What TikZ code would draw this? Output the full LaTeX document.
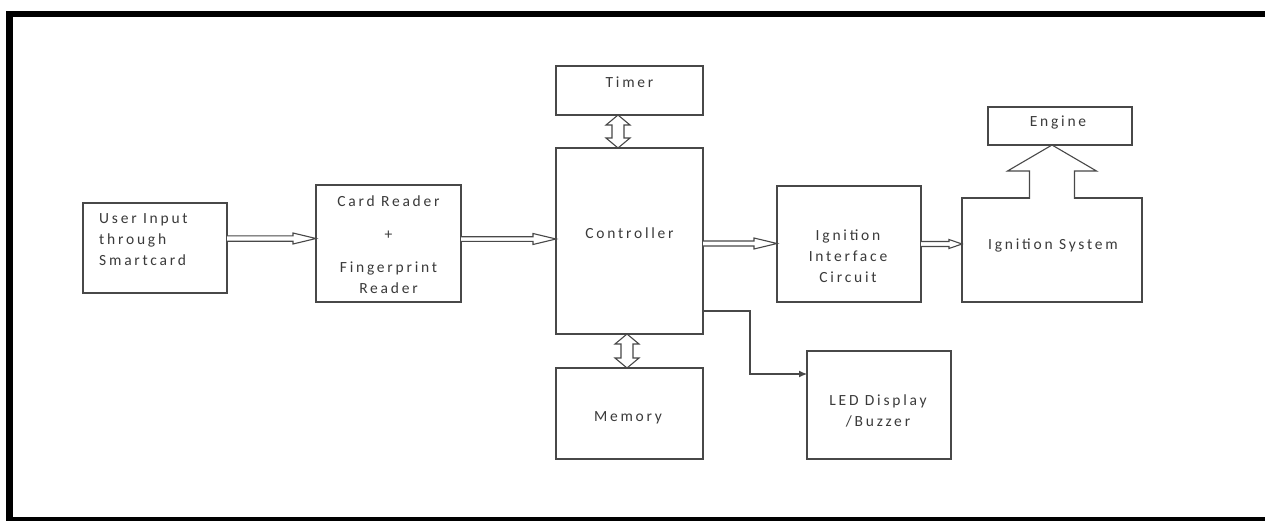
\documentclass[tikz,border=0pt]{standalone}
\usepackage{fontspec}
\setmainfont{Carlito}[LetterSpace=18]
\usetikzlibrary{calc,arrows.meta}
\definecolor{linec}{HTML}{484848}
\definecolor{txtc}{HTML}{3A3A3A}
\newcommand\hollowH[5]{%
  \filldraw[conn,fill=white] let \p1=(#1), \p2=(#2) in
    (\x1,\y1+#3) -- (\x2-#5,\y1+#3) -- (\x2-#5,\y1+#4) -- (\x2,\y1)
    -- (\x2-#5,\y1-#4) -- (\x2-#5,\y1-#3) -- (\x1,\y1-#3);}
\newcommand\hollowV[5]{%
  \filldraw[conn,fill=white] let \p1=(#1), \p2=(#2) in
    (\x1,\y1) -- (\x1+#4,\y1-#5) -- (\x1+#3,\y1-#5) -- (\x1+#3,\y2+#5)
    -- (\x1+#4,\y2+#5) -- (\x1,\y2) -- (\x1-#4,\y2+#5) -- (\x1-#3,\y2+#5)
    -- (\x1-#3,\y1-#5) -- (\x1-#4,\y1-#5) -- cycle;}
\begin{document}
\begin{tikzpicture}[x=1pt,y=-1pt,
  box/.style={draw=linec,line width=1.2pt,rectangle,inner sep=0pt,outer sep=0pt,fill=white},
  conn/.style={draw=linec,line width=1.1pt,line join=miter},
  txt/.style={text=txtc,inner sep=0pt,align=center,font=\fontsize{15.5}{21}\selectfont}]
\useasboundingbox (0,0) rectangle (1265,520);
\clip (0,0) rectangle (1265,520);
\fill[white] (0,0) rectangle (1265,520);
% frame (top, left, bottom only; right side runs off the picture)
\draw[line width=6.5pt,black,line cap=rect] (1266,14) -- (9.5,14) -- (9.5,520.5) -- (1266,520.5);
% boxes
\node[box,minimum width=144pt,minimum height=90pt]  (user)  at (155,248) {};
\node[box,minimum width=145pt,minimum height=117pt] (card)  at (388.5,243.5) {};
\node[box,minimum width=147pt,minimum height=186pt] (ctrl)  at (629.5,241) {};
\node[box,minimum width=147pt,minimum height=49pt]  (timer) at (629.5,90.5) {};
\node[box,minimum width=147pt,minimum height=91pt]  (mem)   at (629.5,413.5) {};
\node[box,minimum width=144pt,minimum height=108pt] (led)   at (879,405) {};
\node[box,minimum width=144pt,minimum height=116pt] (ign)   at (849,244) {};
\node[box,minimum width=180pt,minimum height=104pt] (sys)   at (1052,250) {};
\node[box,minimum width=144pt,minimum height=38pt]  (eng)   at (1060,126) {};
% texts
\node[txt,align=left,anchor=west] (usertxt) at (99,240) {User Input\\through\\Smartcard};
\node[txt] (cardtxt) at (388.5,245) {Card Reader\\[12pt]+\\[12pt]Fingerprint\\Reader};
\node[txt] (ctrltxt) at (629.5,233) {Controller};
\node[txt] (timertxt) at (629.5,82) {Timer};
\node[txt] (memtxt) at (628,418) {Memory};
\node[txt] (ledtxt) at (878,411) {LED Display\\/Buzzer};
\node[txt] (igntxt) at (848,256) {Ignition\\Interface\\Circuit};
\node[txt] (systxt) at (1053,245) {Ignition System};
\node[txt] (engtxt) at (1058,122) {Engine};
% hollow arrows
\hollowH{[yshift=9.5pt]user.east}{card.west}{2.7pt}{5.5pt}{23pt}
\hollowH{[yshift=4.5pt]card.east}{ctrl.west}{2.3pt}{5.5pt}{23pt}
\hollowH{[yshift=-2.5pt]ctrl.east}{ign.west}{2.5pt}{5.5pt}{23pt}
\hollowH{[yshift=0pt]ign.east}{sys.west}{2.5pt}{4.5pt}{13pt}
\hollowV{[xshift=-11.5pt]timer.south}{ctrl.north}{6pt}{12pt}{10pt}
\hollowV{[xshift=-2.5pt]ctrl.south}{mem.north}{6pt}{12pt}{10pt}
% engine block arrow
\filldraw[conn,fill=white] let \p1=(sys.north), \p2=(eng.south) in
  (\x1-22.5pt,\y1-0.9pt) -- (\x1-22.5pt,\y2-26pt) -- (\x1-44.5pt,\y2-26pt)
  -- (\x1,\y2) -- (\x1+44.5pt,\y2-26pt) -- (\x1+22.5pt,\y2-26pt) -- (\x1+22.5pt,\y1-0.9pt);
% controller to LED
\draw[conn,-{Latex[length=8pt,width=7pt]}] ([yshift=-70pt]ctrl.east) -- ++(47,0) |- ([yshift=31pt]led.west);
\end{tikzpicture}
\end{document}
